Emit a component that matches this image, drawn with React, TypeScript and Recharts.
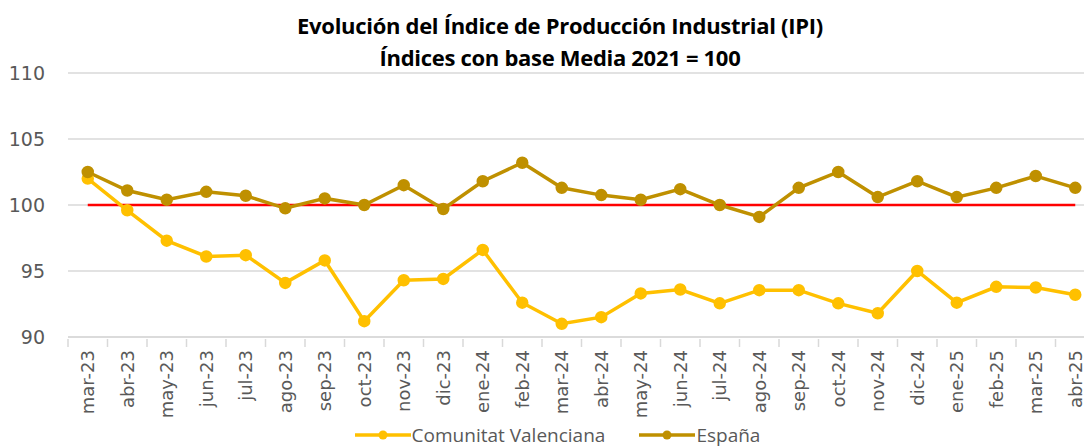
import { LineChart, Line, XAxis, YAxis, CartesianGrid, Legend } from "recharts";

// Meses (eje X)
const meses = [
  "mar-23", "abr-23", "may-23", "jun-23", "jul-23", "ago-23", "sep-23", "oct-23",
  "nov-23", "dic-23", "ene-24", "feb-24", "mar-24", "abr-24", "may-24", "jun-24",
  "jul-24", "ago-24", "sep-24", "oct-24", "nov-24", "dic-24", "ene-25", "feb-25",
  "mar-25", "abr-25",
];

// Comunitat Valenciana
const valenciana = [
  102.0, 99.6, 97.3, 96.1, 96.2, 94.1, 95.8, 91.2, 94.3, 94.4, 96.6, 92.6, 91.0,
  91.5, 93.3, 93.6, 92.55, 93.55, 93.55, 92.55, 91.8, 95.0, 92.6, 93.8, 93.75, 93.2,
];

// España
const espana = [
  102.5, 101.1, 100.4, 101.0, 100.7, 99.75, 100.5, 100.0, 101.5, 99.7, 101.8, 103.2,
  101.3, 100.75, 100.4, 101.2, 100.0, 99.1, 101.3, 102.5, 100.6, 101.8, 100.6, 101.3,
  102.2, 101.3,
];

// Base Media 2021 = 100
const base = meses.map(() => 100);

const ticksY = [90, 95, 100, 105, 110];

const series = [
  { key: "valenciana", nombre: "Comunitat Valenciana", color: "#ffc000" },
  { key: "espana", nombre: "España", color: "#bf9000" },
];

const datos = meses.map((mes, i) => ({
  mes,
  valenciana: valenciana[i],
  espana: espana[i],
  base: base[i],
}));

const fuente = "'DejaVu Sans', sans-serif";
const fuenteTitulo = "'Open Sans', sans-serif";

const ANCHO = 1110;
const IZQ = 68;
const DER = 15;
const paso = (ANCHO - IZQ - DER) / meses.length;

// Etiqueta girada del eje X + marca de separación entre categorías
function TickMes(props: any) {
  const { x, y, payload, index } = props;
  return (
    <g>
      <line x1={x - paso / 2} x2={x - paso / 2} y1={y - 8} y2={y} stroke="#d9d9d9" strokeWidth={1.5} />
      {index === meses.length - 1 && (
        <line x1={x + paso / 2} x2={x + paso / 2} y1={y - 8} y2={y} stroke="#d9d9d9" strokeWidth={1.5} />
      )}
      <text
        x={x}
        y={y + 3}
        transform={`rotate(-90, ${x}, ${y + 3})`}
        textAnchor="end"
        dominantBaseline="central"
        fontSize={18}
        fill="#595959"
        fontFamily={fuente}
      >
        {payload.value}
      </text>
    </g>
  );
}

// Leyenda: línea con marcador
function Leyenda() {
  return (
    <div
      style={{
        display: "flex",
        justifyContent: "center",
        alignItems: "center",
        gap: 34,
        height: 26,
        paddingLeft: 20,
        fontFamily: fuenteTitulo,
        fontSize: 19,
        color: "#595959",
      }}
    >
      {series.map((s) => (
        <div key={s.key} style={{ display: "flex", alignItems: "center" }}>
          <svg width={56} height={14}>
            <line x1={0} x2={56} y1={7} y2={7} stroke={s.color} strokeWidth={3.5} />
            <circle cx={28} cy={7} r={4.5} fill={s.color} />
          </svg>
          <span style={{ marginLeft: 1 }}>{s.nombre}</span>
        </div>
      ))}
    </div>
  );
}

export default function App() {
  return (
    <div
      style={{
        position: "absolute",
        left: 0,
        top: 0,
        width: 1084,
        height: 448,
        overflow: "hidden",
        background: "#fff",
      }}
    >
      <div
        style={{
          position: "absolute",
          left: 0,
          width: 1120,
          top: 9,
          textAlign: "center",
          fontFamily: fuenteTitulo,
          fontWeight: "bold",
          fontSize: 22,
          letterSpacing: -0.3,
          lineHeight: "32px",
          color: "#000",
        }}
      >
        Evolución del Índice de Producción Industrial (IPI)
        <br />
        Índices con base Media 2021 = 100
      </div>
      <LineChart
        width={ANCHO}
        height={448}
        data={datos}
        margin={{ top: 73, right: DER, bottom: 0, left: 0 }}
      >
        <CartesianGrid vertical={false} stroke="#d9d9d9" strokeWidth={1.5} />
        <XAxis
          dataKey="mes"
          interval={0}
          height={85}
          padding={{ left: paso / 2, right: paso / 2 }}
          tickLine={false}
          axisLine={{ stroke: "#d9d9d9", strokeWidth: 1.5 }}
          tick={<TickMes />}
          tickSize={8}
        />
        <YAxis
          width={IZQ}
          domain={[90, 110]}
          ticks={ticksY}
          axisLine={false}
          tickLine={false}
          tickMargin={17}
          tick={{ fontSize: 19, fill: "#595959", fontFamily: fuente }}
        />
        <Legend verticalAlign="bottom" content={<Leyenda />} />
        <Line
          dataKey="base"
          stroke="#ff0000"
          strokeWidth={2.5}
          dot={false}
          legendType="none"
          isAnimationActive={false}
        />
        {series.map((s) => (
          <Line
            key={s.key}
            dataKey={s.key}
            name={s.nombre}
            stroke={s.color}
            strokeWidth={3.5}
            dot={{ r: 4.5, fill: s.color, stroke: s.color }}
            isAnimationActive={false}
          />
        ))}
      </LineChart>
    </div>
  );
}
